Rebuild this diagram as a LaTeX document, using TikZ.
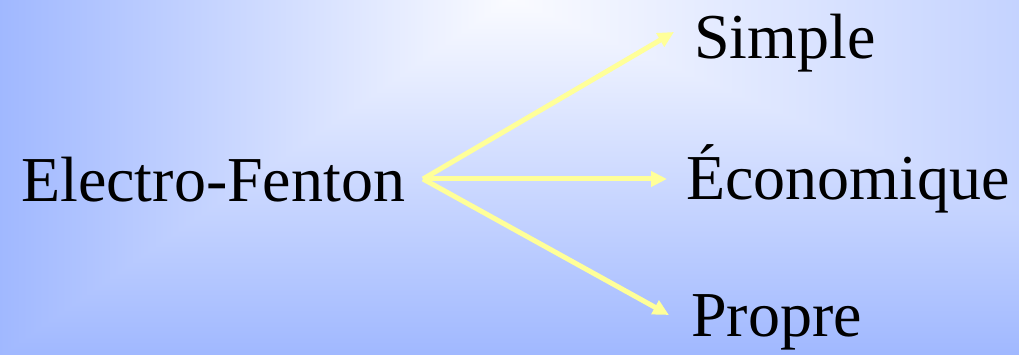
\documentclass[tikz,border=0pt]{standalone}
\usepackage{fontspec}
\newfontfamily\tnr{Liberation Serif}
\usetikzlibrary{arrows.meta}
\definecolor{edgeblue}{HTML}{A0B8FF}
\definecolor{midblue}{HTML}{E0E6FF}
\definecolor{topwhite}{HTML}{FAFBFF}
\definecolor{arrowyellow}{HTML}{FFFF99}
\tikzset{
  lbl/.style={anchor=base west, inner sep=0pt, font=\tnr\fontsize{64}{77}\selectfont, text=black},
  link/.style={draw=arrowyellow, line width=5pt, -{Triangle[length=16pt,width=15pt]}}
}
\begin{document}
\begin{tikzpicture}[x=1pt,y=-1pt]
\useasboundingbox (0,0) rectangle (1019,355);
\coordinate (c) at (510,0);
% background: rectangular gradient from centre c at the top edge
\shade[top color=topwhite, middle color=midblue, bottom color=edgeblue] (-1,-1) rectangle (1020,356);
\begin{scope}
  \clip (c) -- (-1,-1) -- (-1,356) -- cycle;
  \shade[left color=edgeblue, middle color=midblue, right color=topwhite] (-1,-1) rectangle (510,356);
\end{scope}
\begin{scope}
  \clip (c) -- (1360,-1) -- (1360,356) -- cycle;
  \shade[left color=topwhite, middle color=midblue, right color=edgeblue] (510,-1) rectangle (1360,356);
\end{scope}
% labels
\node[lbl] (ef) at (21,202) {Electro-Fenton};
\node[lbl] (simple) at (694,59) {Simple};
\node[lbl] (eco) at (686,200) {Économique};
\node[lbl] (propre) at (691,336) {Propre};
% connectors
\coordinate (o) at (423,179);
\coordinate (tS) at (674,32);
\coordinate (tE) at (667,179);
\coordinate (tP) at (669,315);
\draw[link] (o) -- (tS);
\draw[link] (o) -- (tE);
\draw[link] (o) -- (tP);
\end{tikzpicture}
\end{document}
